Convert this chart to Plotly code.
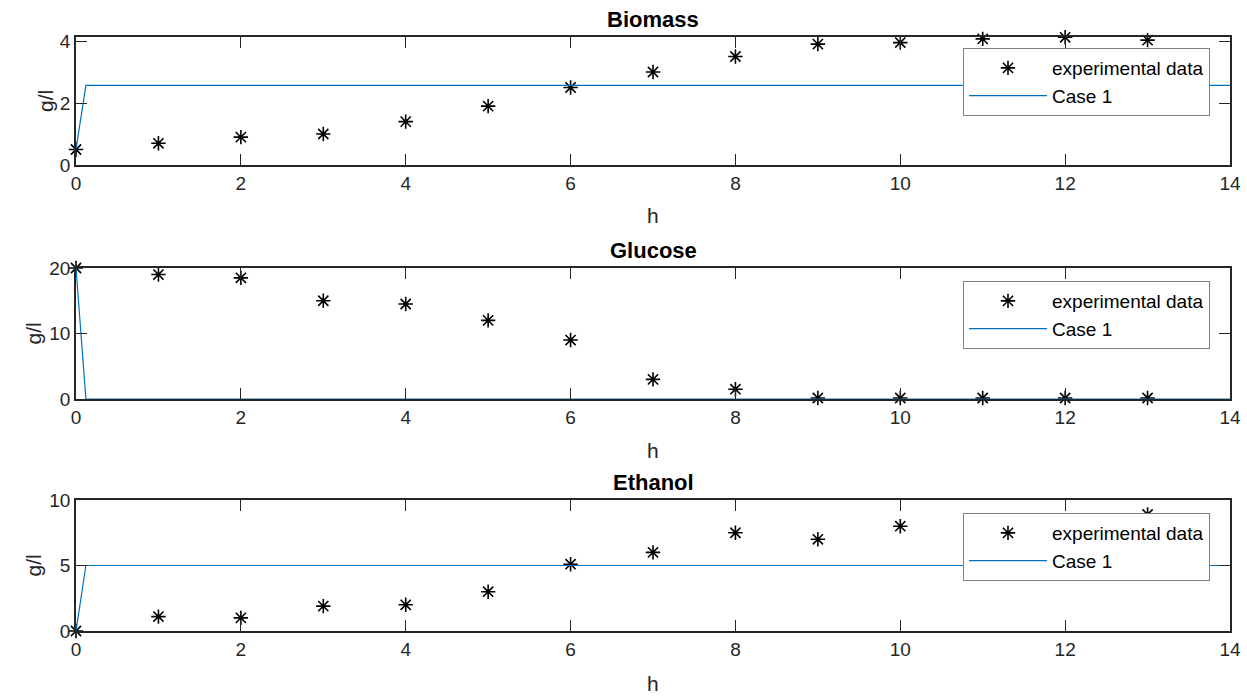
import plotly.graph_objects as go

# ---- data ----
t_exp = [0, 1, 2, 3, 4, 5, 6, 7, 8, 9, 10, 11, 12, 13]
biomass_exp = [0.5, 0.7, 0.9, 1.0, 1.4, 1.9, 2.5, 3.0, 3.5, 3.9, 3.95, 4.07, 4.12, 4.03]
glucose_exp = [20.0, 19.0, 18.5, 15.0, 14.5, 12.0, 9.0, 3.0, 1.5, 0.15, 0.15, 0.15, 0.15, 0.15]
ethanol_exp = [0.0, 1.1, 1.0, 1.9, 2.0, 3.0, 5.1, 6.0, 7.5, 7.0, 8.0, 8.2, 8.4, 8.9]

t_model = [0, 0.12, 14]
biomass_model = [0.5, 2.57, 2.57]
glucose_model = [20.0, 0.0, 0.0]
ethanol_model = [0.0, 5.0, 5.0]

titles = ["Biomass", "Glucose", "Ethanol"]
y_ranges = [[0, 4.13], [0, 20], [0, 10]]
y_ticks = [[0, 2, 4], [0, 10, 20], [0, 5, 10]]
x_ticks = [0, 2, 4, 6, 8, 10, 12, 14]

W, H = 1247, 697
FONT = "Liberation Sans, Arial, Helvetica, sans-serif"
AX_COL = "#262626"
LINE_COL = "#0072BD"

# pixel layout of each axes box (top, bottom)
boxes = [(37, 165), (268, 399), (500, 631)]
x_left, x_right = 76, 1230
legend_tops = [48, 281, 513]
xlabel_y = [216, 450, 683]
ylabel_x = [45, 33, 33]

fig = go.Figure()
exp_series = [biomass_exp, glucose_exp, ethanol_exp]
mod_series = [biomass_model, glucose_model, ethanol_model]

for i in range(3):
    sfx = "" if i == 0 else str(i + 1)
    leg = "legend" + sfx
    fig.add_trace(go.Scatter(
        x=t_exp, y=exp_series[i], mode="markers", name="experimental data",
        xaxis="x" + sfx, yaxis="y" + sfx, legend=leg, cliponaxis=False,
        marker=dict(symbol="asterisk-open", size=12, color="black",
                    line=dict(color="black", width=1.6)),
    ))
    fig.add_trace(go.Scatter(
        x=t_model, y=mod_series[i], mode="lines", name="Case 1",
        xaxis="x" + sfx, yaxis="y" + sfx, legend=leg,
        line=dict(color=LINE_COL, width=1.2),
    ))

layout = dict(
    width=W, height=H,
    margin=dict(l=0, r=0, t=0, b=0, autoexpand=False),
    paper_bgcolor="white", plot_bgcolor="white",
    font=dict(family=FONT, size=19, color=AX_COL),
    showlegend=True,
    annotations=[],
)

for i in range(3):
    sfx = "" if i == 0 else str(i + 1)
    top, bot = boxes[i]
    xa = dict(
        domain=[x_left / W, x_right / W], range=[0, 14],
        tickvals=x_ticks, ticks="inside", ticklen=11, tickwidth=1.3,
        tickcolor=AX_COL, showline=True, linecolor=AX_COL, linewidth=1.5,
        mirror="allticks", showgrid=False, zeroline=False, automargin=False,
        tickfont=dict(size=19, color=AX_COL, family=FONT),
        anchor="y" + sfx,
    )
    ya = dict(
        domain=[1 - bot / H, 1 - top / H], range=y_ranges[i],
        tickvals=y_ticks[i], ticks="inside", ticklen=11, tickwidth=1.3,
        tickcolor=AX_COL, showline=True, linecolor=AX_COL, linewidth=1.5,
        mirror="allticks", showgrid=False, zeroline=False, automargin=False,
        tickfont=dict(size=19, color=AX_COL, family=FONT),
        anchor="x" + sfx,
    )
    layout["xaxis" + sfx] = xa
    layout["yaxis" + sfx] = ya
    layout["legend" + sfx] = dict(
        x=1210 / W, xanchor="right", y=1 - legend_tops[i] / H, yanchor="top",
        bgcolor="white", bordercolor="#808080", borderwidth=1,
        font=dict(size=19, color="black", family=FONT),
        itemwidth=78, tracegroupgap=0,
    )
    # subplot title
    layout["annotations"].append(dict(
        text="<b>" + titles[i] + "</b>", xref="paper", yref="paper",
        x=(x_left + x_right) / 2 / W, y=1 - (top - 3) / H,
        xanchor="center", yanchor="bottom", showarrow=False,
        font=dict(size=22, color="black", family=FONT),
    ))
    # x axis label
    layout["annotations"].append(dict(
        text="h", xref="paper", yref="paper",
        x=(x_left + x_right) / 2 / W, y=1 - xlabel_y[i] / H,
        xanchor="center", yanchor="middle", showarrow=False,
        font=dict(size=21, color=AX_COL, family=FONT),
    ))
    # y axis label
    layout["annotations"].append(dict(
        text="g/l", xref="paper", yref="paper", textangle=-90,
        x=ylabel_x[i] / W, y=1 - (top + bot) / 2 / H,
        xanchor="center", yanchor="middle", showarrow=False,
        font=dict(size=21, color=AX_COL, family=FONT),
    ))

fig.update_layout(**layout)
fig.write_html("out.html", config={"displayModeBar": False},
               post_script="document.body.style.margin='0';")
